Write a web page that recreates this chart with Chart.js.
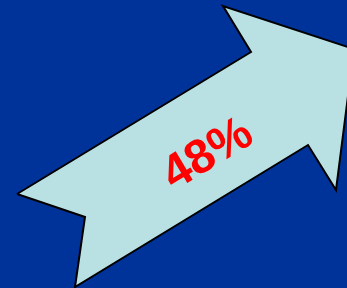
<!DOCTYPE html>
<html>
<head>
<meta charset="utf-8">
<script src="https://cdn.jsdelivr.net/npm/chart.js@4"></script>
<style>
  html, body { margin: 0; padding: 0; background: #003399; }
  #wrap { width: 347px; height: 288px; }
</style>
</head>
<body>
<div id="wrap"><canvas id="arrowChart"></canvas></div>
<script>
// arrow outline, in picture units (y grows downward)
const shapeX = [17, 251, 223, 354, 336, 308, 75, 85, 17];
const shapeY = [194, 52, 6, 49, 190, 145, 287, 217, 194];
const labelText = '48%';

const points = shapeX.map((x, i) => ({ x: x, y: shapeY[i] }));

const labelPlugin = {
    id: 'arrowLabel',
    afterDatasetsDraw(chart) {
        const ctx = chart.ctx;
        const xs = chart.scales.x, ys = chart.scales.y;
        const cx = xs.getPixelForValue(208);
        const cy = ys.getPixelForValue(155);
        ctx.save();
        ctx.translate(cx, cy);
        ctx.rotate(-31 * Math.PI / 180);
        ctx.font = 'bold 48px "Liberation Sans", Arial, sans-serif';
        ctx.fillStyle = '#ff0000';
        ctx.textAlign = 'center';
        ctx.textBaseline = 'middle';
        ctx.fillText(labelText, 0, 0);
        ctx.restore();
    }
};

new Chart(document.getElementById('arrowChart'), {
    type: 'scatter',
    data: {
        datasets: [{
            data: points,
            showLine: true,
            fill: 'shape',
            borderColor: '#000000',
            borderWidth: 2,
            backgroundColor: '#b9e0e3',
            pointRadius: 0,
            tension: 0
        }]
    },
    options: {
        responsive: true,
        maintainAspectRatio: false,
        animation: false,
        layout: { padding: 0 },
        plugins: { legend: { display: false }, tooltip: { enabled: false } },
        scales: {
            x: { type: 'linear', min: 0, max: 347, display: false },
            y: { type: 'linear', min: 0, max: 288, reverse: true, display: false }
        }
    },
    plugins: [labelPlugin]
});
</script>
</body>
</html>
